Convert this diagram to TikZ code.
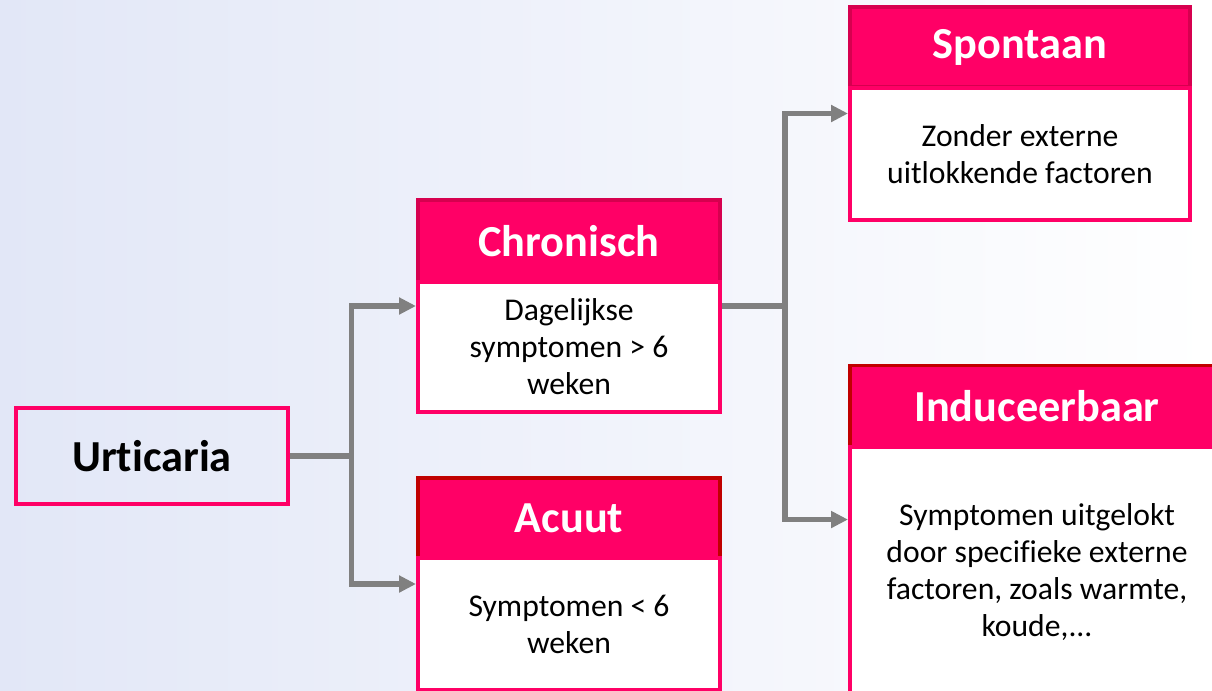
\documentclass[tikz,border=0pt]{standalone}
\usepackage{fontspec}
\setmainfont{Carlito}[Ligatures=CommonOff]
\usetikzlibrary{calc,arrows.meta}

\definecolor{pinkmain}{HTML}{FF0066}
\definecolor{pinkdark}{HTML}{D6004F}
\definecolor{darkred}{HTML}{C00000}
\definecolor{linkgray}{HTML}{808080}
\definecolor{bgblue}{HTML}{E2E7F7}
\definecolor{bgmid}{HTML}{EFF2FB}

\tikzset{
  hdr/.style={draw=pinkdark, fill=pinkmain, line width=1.1pt, inner sep=0pt,
    text=white, font=\fontsize{12.6}{15}\selectfont\bfseries},
  bdy/.style={draw=pinkmain, fill=white, line width=1.1pt, inner sep=0pt,
    align=center, font=\fontsize{9}{10.5}\selectfont},
  rootbox/.style={draw=pinkmain, line width=1.1pt, inner sep=0pt,
    font=\fontsize{12.6}{15}\selectfont\bfseries},
  link/.style={draw=linkgray, line width=1.6pt},
  arr/.style={link, -{Triangle[length=4.8pt,width=4.6pt]}}
}

\begin{document}
\begin{tikzpicture}[x=0.01cm, y=-0.01cm]
\useasboundingbox (0,0) rectangle (1212,691);
\clip (0,0) rectangle (1212,691);
\shade[left color=bgblue, middle color=bgmid, right color=white] (0,0) rectangle (1212,691);

\node[rootbox, minimum width=2.71cm, minimum height=0.96cm] (urt) at (152,456) {Urticaria};

\node[hdr, minimum width=3.02cm, minimum height=0.82cm] (chr-h) at (569,241) {Chronisch};
\node[bdy, minimum width=3.02cm, minimum height=1.30cm] (chr-b) at (569,347)
  {Dagelijkse\\symptomen > 6\\weken};

\node[hdr, draw=darkred, minimum width=3.02cm, minimum height=0.80cm] (acu-h) at (569,518) {Acuut};
\node[bdy, minimum width=3.02cm, minimum height=1.32cm] (acu-b) at (569,624)
  {Symptomen < 6\\weken};

\node[hdr, minimum width=3.40cm, minimum height=0.80cm] (spo-h) at (1020,47) {Spontaan};
\node[bdy, minimum width=3.40cm, minimum height=1.32cm] (spo-b) at (1020,154)
  {Zonder externe\\uitlokkende factoren};

\node[hdr, draw=darkred, minimum width=3.74cm, minimum height=0.81cm] (ind-h) at (1037,406) {Induceerbaar};
\node[bdy, minimum width=3.74cm, minimum height=2.50cm] (ind-b) at (1037,572)
  {Symptomen uitgelokt\\door specifieke externe\\factoren, zoals warmte,\\koude,...};

\coordinate (chr-in) at ($(chr-h.north west)!.5!(chr-b.south west)$);
\coordinate (chr-out) at ($(chr-h.north east)!.5!(chr-b.south east)$);
\coordinate (acu-in) at ($(acu-h.north west)!.5!(acu-b.south west)$);
\coordinate (spo-in) at ($(spo-h.north west)!.5!(spo-b.south west)$);
\coordinate (ind-in) at ($(ind-h.north west)!.465!(ind-b.south west)$);

\draw[link] (urt.east) -- ++(62,0) coordinate (fork1);
\draw[arr] (fork1) |- (chr-in);
\draw[arr] (fork1) |- (acu-in);

\draw[link] (chr-out) -- ++(63,0) coordinate (fork2);
\draw[arr] (fork2) |- (spo-in);
\draw[arr] (fork2) |- (ind-in);
\end{tikzpicture}
\end{document}
